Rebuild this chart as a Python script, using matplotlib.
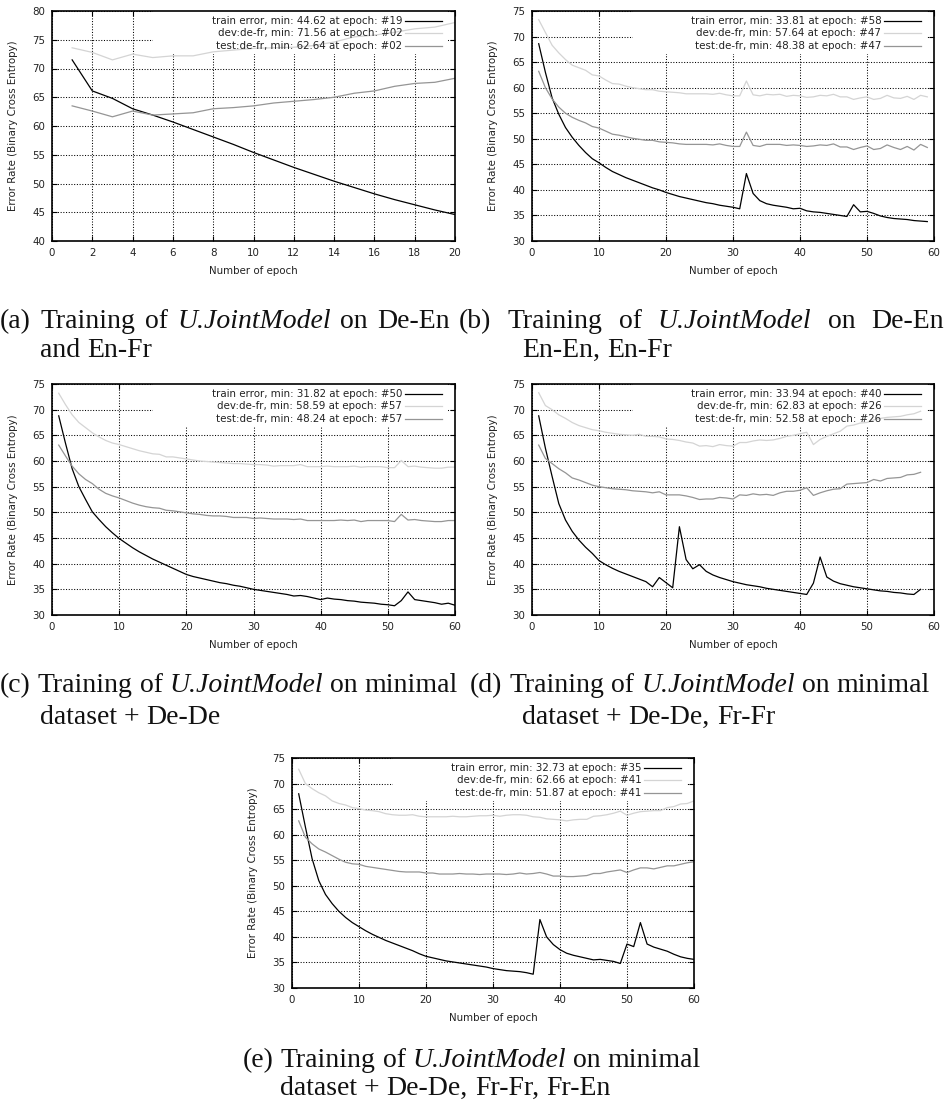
import matplotlib
matplotlib.use('Agg')
import matplotlib.pyplot as plt
from matplotlib.patches import Rectangle

W, H = 946, 1111

# series labels (same in every panel)
series_names = ['train', 'dev', 'test']

# (a) De-En and En-Fr
a_epoch = list(range(1, 21))
a_train = [71.5, 66.1, 64.8, 63.0, 61.9, 60.7, 59.4, 58.1, 56.8, 55.4,
           54.1, 52.8, 51.6, 50.4, 49.3, 48.2, 47.2, 46.3, 45.4, 44.6]
a_dev = [73.6, 72.8, 71.5, 72.5, 71.9, 72.2, 72.2, 72.9, 73.2, 73.5,
         73.6, 73.7, 74.0, 74.6, 75.5, 75.8, 76.3, 76.9, 77.2, 78.0]
a_test = [63.5, 62.6, 61.6, 62.6, 61.9, 62.1, 62.3, 63.0, 63.2, 63.5,
          64.0, 64.3, 64.6, 65.0, 65.7, 66.1, 66.9, 67.4, 67.6, 68.3]
a_legend = ['train error, min: 44.62 at epoch: #19',
            'dev:de-fr, min: 71.56 at epoch: #02',
            'test:de-fr, min: 62.64 at epoch: #02']

# (b) De-En, En-En, En-Fr
b_epoch = list(range(1, 60))
b_train = [68.6, 63.0, 58.0, 54.8, 52.2, 50.3, 48.7, 47.3, 46.1, 45.3,
           44.4, 43.6, 43.0, 42.4, 41.9, 41.4, 40.9, 40.4, 40.0, 39.5,
           39.1, 38.7, 38.4, 38.1, 37.8, 37.5, 37.3, 37.0, 36.8, 36.6,
           36.3, 43.2, 39.3, 37.9, 37.3, 37.0, 36.8, 36.6, 36.3, 36.4,
           35.9, 35.7, 35.6, 35.4, 35.2, 35.0, 34.8, 37.1, 35.7, 35.8,
           35.4, 34.9, 34.6, 34.4, 34.3, 34.2, 34.0, 33.9, 33.8]
b_dev = [73.3, 70.8, 68.3, 66.8, 65.5, 64.4, 63.9, 63.4, 62.5, 62.3,
         61.5, 60.8, 60.7, 60.3, 60.0, 59.8, 59.6, 59.6, 59.3, 59.2,
         59.1, 59.0, 58.8, 58.8, 58.8, 58.8, 58.7, 58.9, 58.6, 58.4,
         58.4, 61.3, 58.6, 58.4, 58.7, 58.6, 58.7, 58.3, 58.5, 58.4,
         58.1, 58.2, 58.5, 58.4, 58.7, 58.2, 58.2, 57.7, 58.0, 58.2,
         57.7, 57.9, 58.5, 58.0, 57.9, 58.3, 57.7, 58.5, 58.2]
b_test = [63.2, 60.0, 57.8, 56.2, 55.0, 54.2, 53.6, 53.1, 52.4, 52.1,
          51.5, 50.9, 50.7, 50.4, 50.1, 49.9, 49.7, 49.7, 49.4, 49.3,
          49.2, 49.0, 48.9, 48.9, 48.9, 48.9, 48.8, 49.0, 48.7, 48.5,
          48.5, 51.3, 48.7, 48.5, 48.9, 48.9, 48.9, 48.7, 48.8, 48.7,
          48.5, 48.6, 48.8, 48.7, 49.0, 48.4, 48.4, 47.9, 48.3, 48.6,
          47.9, 48.1, 48.8, 48.3, 47.9, 48.5, 47.8, 48.9, 48.3]
b_legend = ['train error, min: 33.81 at epoch: #58',
            'dev:de-fr, min: 57.64 at epoch: #47',
            'test:de-fr, min: 48.38 at epoch: #47']

# (c) minimal dataset + De-De
c_epoch = list(range(1, 61))
c_train = [68.8, 63.5, 58.5, 55.0, 52.5, 50.1, 48.6, 47.2, 46.0, 44.9,
           44.0, 43.1, 42.3, 41.6, 40.9, 40.3, 39.7, 39.1, 38.5, 37.9,
           37.5, 37.2, 36.9, 36.6, 36.3, 36.1, 35.8, 35.6, 35.3, 35.0,
           34.8, 34.6, 34.4, 34.2, 34.0, 33.7, 33.8, 33.6, 33.3, 33.0,
           33.3, 33.1, 33.0, 32.8, 32.7, 32.5, 32.4, 32.3, 32.1, 32.0,
           31.8, 32.8, 34.5, 33.0, 32.8, 32.6, 32.4, 32.1, 32.3, 31.9]
c_dev = [73.2, 71.0, 69.0, 67.5, 66.5, 65.5, 64.7, 64.0, 63.5, 63.2,
         62.8, 62.4, 62.0, 61.7, 61.4, 61.3, 60.8, 60.8, 60.6, 60.4,
         60.2, 60.0, 59.9, 59.8, 59.7, 59.6, 59.5, 59.5, 59.4, 59.3,
         59.3, 59.2, 59.0, 59.1, 59.1, 59.1, 59.3, 58.9, 58.9, 58.9,
         59.0, 58.9, 58.9, 58.9, 59.0, 58.8, 58.9, 58.9, 58.9, 58.7,
         58.7, 60.1, 58.9, 59.0, 58.8, 58.7, 58.6, 58.6, 58.8, 58.8]
c_test = [63.1, 61.0, 59.0, 57.5, 56.4, 55.6, 54.5, 53.7, 53.2, 52.8,
          52.3, 51.8, 51.4, 51.1, 50.9, 50.8, 50.4, 50.3, 50.1, 49.9,
          49.7, 49.6, 49.4, 49.3, 49.3, 49.2, 49.0, 49.0, 49.0, 48.8,
          48.9, 48.8, 48.7, 48.7, 48.7, 48.6, 48.7, 48.4, 48.4, 48.4,
          48.4, 48.4, 48.5, 48.4, 48.5, 48.2, 48.4, 48.4, 48.4, 48.4,
          48.2, 49.6, 48.5, 48.6, 48.4, 48.3, 48.2, 48.2, 48.4, 48.4]
c_legend = ['train error, min: 31.82 at epoch: #50',
            'dev:de-fr, min: 58.59 at epoch: #57',
            'test:de-fr, min: 48.24 at epoch: #57']

# (d) minimal dataset + De-De, Fr-Fr
d_epoch = list(range(1, 59))
d_train = [68.8, 62.5, 57.0, 51.7, 48.5, 46.3, 44.6, 43.2, 42.0, 40.6,
           39.8, 39.1, 38.5, 38.0, 37.5, 37.0, 36.5, 35.5, 37.3, 36.3,
           35.3, 47.2, 40.8, 39.0, 39.8, 38.5, 37.8, 37.3, 36.9, 36.5,
           36.2, 35.9, 35.7, 35.5, 35.2, 35.0, 34.8, 34.6, 34.4, 34.2,
           34.0, 36.2, 41.3, 37.4, 36.6, 36.1, 35.8, 35.5, 35.3, 35.1,
           34.9, 34.7, 34.6, 34.4, 34.3, 34.1, 34.0, 35.0]
d_dev = [73.3, 70.8, 70.0, 69.0, 68.3, 67.5, 66.9, 66.5, 66.1, 65.9,
         65.6, 65.4, 65.2, 65.1, 65.0, 65.2, 64.8, 64.8, 64.7, 64.3,
         64.2, 64.0, 63.7, 63.5, 62.9, 63.0, 62.8, 63.2, 63.0, 62.9,
         63.6, 63.6, 63.9, 64.1, 64.0, 64.1, 64.4, 64.8, 65.0, 65.3,
         65.6, 63.2, 64.2, 64.8, 65.3, 65.8, 66.8, 67.0, 67.4, 67.5,
         68.0, 68.3, 68.5, 68.6, 68.7, 69.0, 69.2, 69.7]
d_test = [63.1, 60.5, 59.5, 58.5, 57.7, 56.7, 56.3, 55.8, 55.3, 55.0,
          54.8, 54.6, 54.5, 54.4, 54.2, 54.1, 54.0, 53.8, 54.0, 53.4,
          53.4, 53.4, 53.2, 52.9, 52.5, 52.6, 52.6, 52.9, 52.8, 52.6,
          53.4, 53.3, 53.6, 53.4, 53.5, 53.3, 53.8, 54.1, 54.1, 54.3,
          54.8, 53.3, 53.8, 54.2, 54.5, 54.6, 55.5, 55.6, 55.7, 55.8,
          56.4, 56.1, 56.6, 56.7, 56.8, 57.3, 57.4, 57.8]
d_legend = ['train error, min: 33.94 at epoch: #40',
            'dev:de-fr, min: 62.83 at epoch: #26',
            'test:de-fr, min: 52.58 at epoch: #26']

# (e) minimal dataset + De-De, Fr-Fr, Fr-En
e_epoch = list(range(1, 61))
e_train = [68.0, 61.5, 55.3, 51.0, 48.3, 46.5, 45.0, 43.8, 42.8, 42.0,
           41.2, 40.5, 39.9, 39.3, 38.8, 38.3, 37.8, 37.3, 36.7, 36.2,
           35.9, 35.6, 35.3, 35.1, 34.9, 34.7, 34.5, 34.3, 34.1, 33.8,
           33.6, 33.4, 33.3, 33.2, 33.0, 32.7, 43.4, 40.0, 38.5, 37.5,
           36.8, 36.4, 36.1, 35.8, 35.5, 35.6, 35.4, 35.2, 34.8, 38.6,
           38.1, 42.8, 38.6, 38.0, 37.6, 37.2, 36.6, 36.1, 35.8, 35.6]
e_dev = [72.8, 70.0, 69.0, 68.2, 67.6, 66.6, 66.1, 65.8, 65.3, 65.1,
         64.8, 64.7, 64.5, 64.1, 63.9, 63.8, 63.8, 63.9, 63.6, 63.5,
         63.5, 63.5, 63.5, 63.6, 63.5, 63.5, 63.6, 63.7, 63.7, 63.8,
         63.6, 63.8, 63.9, 63.9, 63.8, 63.5, 63.4, 63.1, 63.0, 62.9,
         62.7, 62.9, 63.0, 63.0, 63.6, 63.7, 63.9, 64.2, 64.6, 63.8,
         64.2, 64.5, 64.6, 64.7, 64.7, 65.3, 65.5, 66.0, 66.1, 66.6]
e_test = [62.7, 59.5, 58.2, 57.2, 56.6, 55.9, 55.2, 54.6, 54.3, 54.2,
          53.8, 53.6, 53.4, 53.2, 53.0, 52.8, 52.7, 52.7, 52.7, 52.5,
          52.5, 52.3, 52.3, 52.3, 52.4, 52.3, 52.3, 52.2, 52.3, 52.3,
          52.3, 52.2, 52.3, 52.5, 52.3, 52.4, 52.6, 52.3, 51.9, 51.9,
          51.8, 51.8, 51.9, 52.0, 52.4, 52.4, 52.7, 52.9, 53.1, 52.6,
          53.1, 53.5, 53.5, 53.3, 53.6, 53.9, 53.9, 54.2, 54.5, 54.7]
e_legend = ['train error, min: 32.73 at epoch: #35',
            'dev:de-fr, min: 62.66 at epoch: #41',
            'test:de-fr, min: 51.87 at epoch: #41']

colors = {'train': 'black', 'dev': '#d4d4d4', 'test': '#959595'}
txt_col = '#222222'
tick_fs = 7.4


def gnuplot_panel(rect_px, epoch, train, dev, test, labels, xmax, xstep, ymin, ymax):
    left, top, right, bottom = rect_px
    ax = fig.add_axes([left / W, 1 - bottom / H, (right - left) / W, (bottom - top) / H])
    ax.set_xlim(0, xmax)
    ax.set_ylim(ymin, ymax)
    ax.set_xticks(range(0, xmax + 1, xstep))
    ax.set_yticks(range(ymin, ymax + 1, 5))
    ax.grid(True, color='black', linestyle=(0, (1, 1.6)), linewidth=0.75)
    ax.tick_params(direction='in', length=3.5, width=0.8, top=True, right=True,
                   labelsize=tick_fs, labelcolor=txt_col, pad=5)
    for s in ax.spines.values():
        s.set_linewidth(1.2)
    # key box hides the grid behind it (gnuplot opaque key)
    ax.add_patch(Rectangle((0.25, 0.815), 0.732, 0.185, transform=ax.transAxes,
                           facecolor='white', edgecolor='none', zorder=1.7))
    for name, ys in zip(series_names, [train, dev, test]):
        ax.plot(epoch, ys, color=colors[name], lw=0.9, zorder=2)
    for i, (name, lab) in enumerate(zip(series_names, labels)):
        yy = 0.957 - i * 0.054
        ax.text(0.869, yy, lab, transform=ax.transAxes, ha='right', va='center',
                fontsize=tick_fs, color=txt_col, zorder=3)
        ax.plot([0.876, 0.968], [yy, yy], transform=ax.transAxes,
                color=colors[name], lw=0.9, zorder=3)
    ax.set_xlabel('Number of epoch', fontsize=tick_fs, color=txt_col)
    ax.set_ylabel('Error Rate (Binary Cross Entropy)', fontsize=tick_fs, color=txt_col)
    ax.xaxis.label.set_va('center')
    ax.yaxis.label.set_va('center')
    ax.xaxis.set_label_coords(0.5, -0.13)
    ax.yaxis.set_label_coords(-0.098, 0.5)
    return ax


def caption_line(x, y, words, right=None, size=20):
    r = fig.canvas.get_renderer()
    items = []
    for w, it in words:
        t = fig.text(0, 1 - y / H, w, fontsize=size, family='Liberation Serif',
                     style='italic' if it else 'normal', va='baseline', color='#111111')
        items.append(t)
    widths = [t.get_window_extent(r).width for t in items]
    space = size * 0.25 * 100 / 72
    if right is not None:
        space = max(space, (right - x - sum(widths)) / (len(items) - 1))
    pos = x
    for t, w in zip(items, widths):
        t.set_x(pos / W)
        pos += w + space


def words(s, italic_word='U.JointModel'):
    return [(w, w == italic_word) for w in s.split(' ')]


fig = plt.figure(figsize=(W / 100, H / 100), dpi=100)

gnuplot_panel((52, 11, 455, 241), a_epoch, a_train, a_dev, a_test, a_legend, 20, 2, 40, 80)
gnuplot_panel((532, 11, 934, 241), b_epoch, b_train, b_dev, b_test, b_legend, 60, 10, 30, 75)
gnuplot_panel((52, 384, 455, 615), c_epoch, c_train, c_dev, c_test, c_legend, 60, 10, 30, 75)
gnuplot_panel((532, 384, 934, 615), d_epoch, d_train, d_dev, d_test, d_legend, 60, 10, 30, 75)
gnuplot_panel((292, 758, 694, 988), e_epoch, e_train, e_dev, e_test, e_legend, 60, 10, 30, 75)

caption_line(0, 328, words('(a) Training of U.JointModel on De-En'), right=450)
caption_line(40, 357, words('and En-Fr'))
caption_line(459, 328, words('(b) Training of U.JointModel on De-En'), right=944)
caption_line(522, 357, words('En-En, En-Fr'))
caption_line(0, 692, words('(c) Training of U.JointModel on minimal'))
caption_line(40, 724, words('dataset + De-De'))
caption_line(470, 692, words('(d) Training of U.JointModel on minimal'))
caption_line(522, 724, words('dataset + De-De, Fr-Fr'))
caption_line(243, 1067, words('(e) Training of U.JointModel on minimal'))
caption_line(280, 1095, words('dataset + De-De, Fr-Fr, Fr-En'))

fig.savefig('out.png', dpi=100)
